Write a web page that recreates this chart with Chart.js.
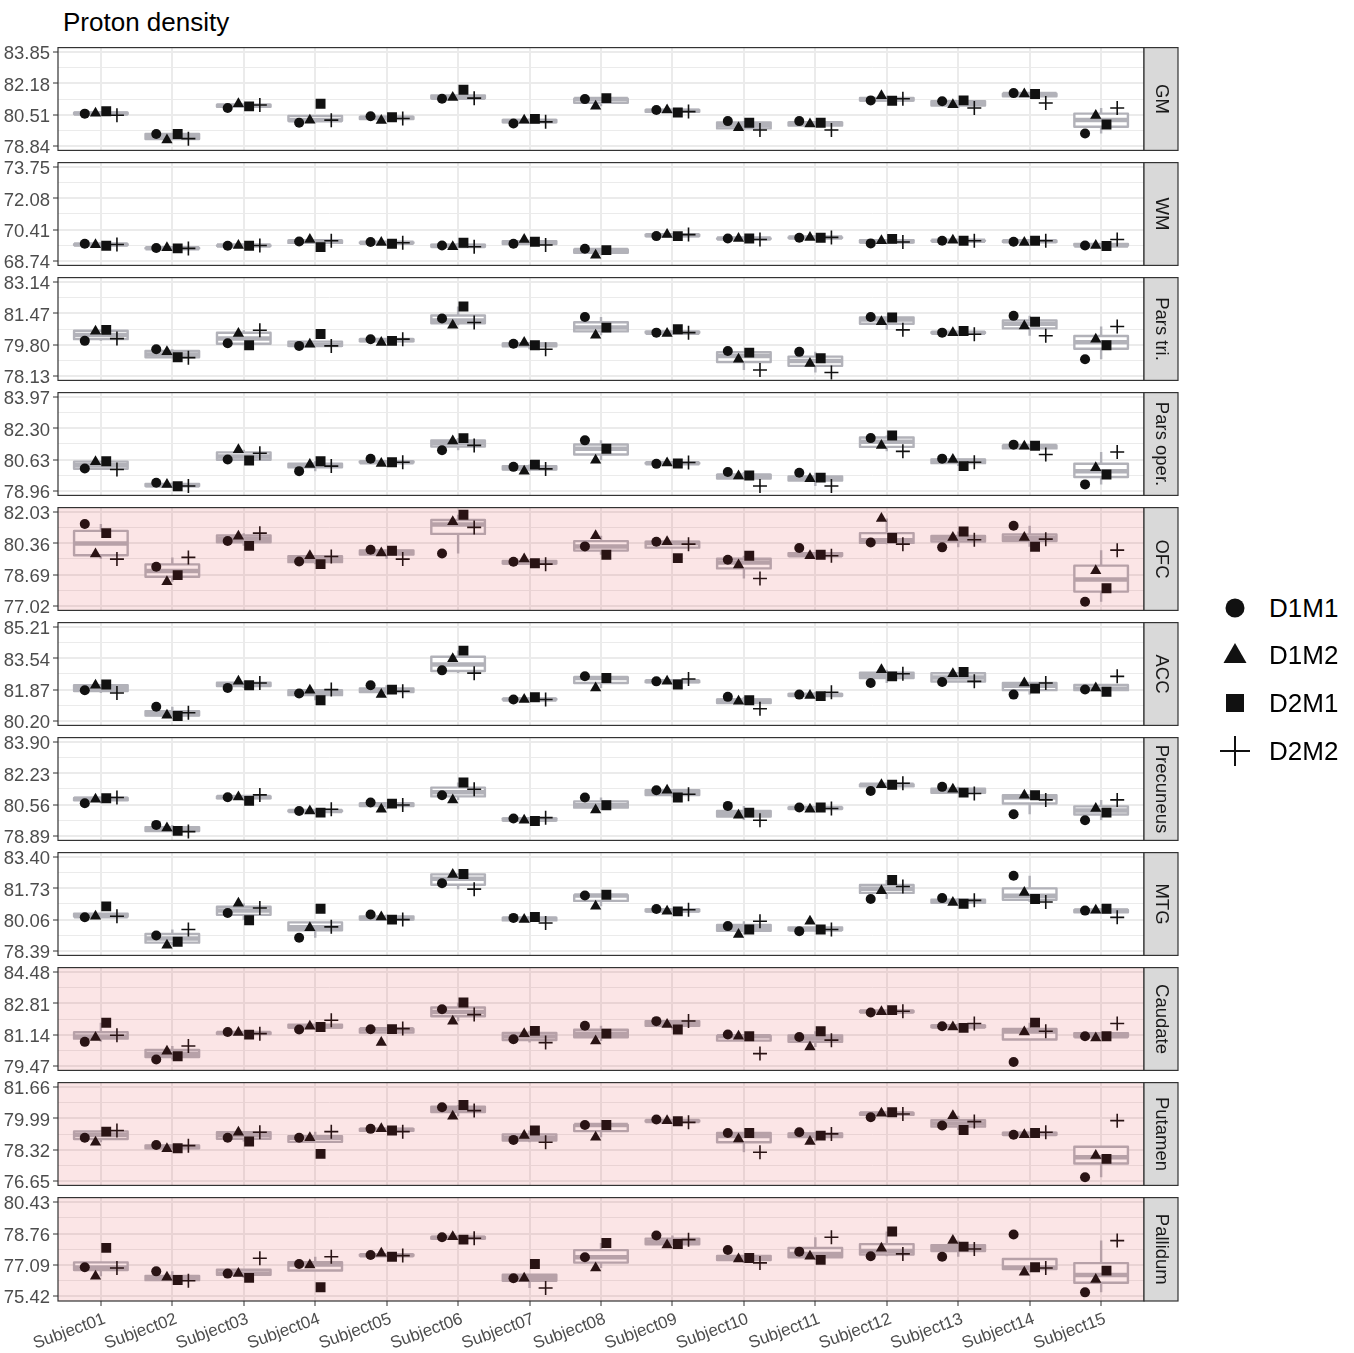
<!DOCTYPE html>
<html>
<head>
<meta charset="utf-8">
<script src="https://cdn.jsdelivr.net/npm/chart.js@4.4.1/dist/chart.umd.min.js"></script>
<style>
  body { margin: 0; background: #fff; }
  #page { position: relative; width: 1354px; height: 1353px; overflow: hidden; font-family: 'Liberation Sans', Arial, sans-serif; }
  #title { position: absolute; left: 63px; top: 6px; font-size: 26px; line-height: 32px; color: #000; }
  canvas.panel { position: absolute; left: 0; }
  .key { position: absolute; left: 1215px; width: 140px; height: 40px; }
  .key svg { position: absolute; left: 0; top: 0; }
  .key span { position: absolute; left: 54px; top: 0; font-size: 26px; line-height: 40px; color: #000; white-space: nowrap; }
</style>
</head>
<body>
<div id="page">
  <div id="title">Proton density</div>
</div>
<script>
const subjects = ['Subject01', 'Subject02', 'Subject03', 'Subject04', 'Subject05', 'Subject06', 'Subject07', 'Subject08',
  'Subject09', 'Subject10', 'Subject11', 'Subject12', 'Subject13', 'Subject14', 'Subject15'];
const regions = ['GM', 'WM', 'Pars tri.', 'Pars oper.', 'OFC', 'ACC', 'Precuneus', 'MTG', 'Caudate', 'Putamen', 'Pallidum'];
const shadedRegions = ['OFC', 'Caudate', 'Putamen', 'Pallidum'];

// y tick labels of each facet (free scales)
const yTicks = [
  [78.84, 80.51, 82.18, 83.85],
  [68.74, 70.41, 72.08, 73.75],
  [78.13, 79.80, 81.47, 83.14],
  [78.96, 80.63, 82.30, 83.97],
  [77.02, 78.69, 80.36, 82.03],
  [80.20, 81.87, 83.54, 85.21],
  [78.89, 80.56, 82.23, 83.90],
  [78.39, 80.06, 81.73, 83.40],
  [79.47, 81.14, 82.81, 84.48],
  [76.65, 78.32, 79.99, 81.66],
  [75.42, 77.09, 78.76, 80.43]
];

// one row per region (same order as regions), one value per subject
const D1M1 = [
  [80.56, 79.47, 80.86, 80.07, 80.42, 81.36, 80.03, 81.34, 80.76, 80.16, 80.16, 81.27, 81.22, 81.66, 79.50],
  [69.65, 69.42, 69.54, 69.77, 69.74, 69.56, 69.65, 69.38, 70.06, 69.93, 69.97, 69.67, 69.81, 69.76, 69.56],
  [80.00, 79.55, 79.87, 79.73, 80.09, 81.20, 79.84, 81.28, 80.44, 79.46, 79.41, 81.28, 80.44, 81.34, 79.01],
  [80.15, 79.39, 80.63, 80.01, 80.67, 81.13, 80.24, 81.66, 80.40, 79.96, 79.92, 81.78, 80.68, 81.43, 79.30],
  [81.40, 79.11, 80.49, 79.39, 80.02, 79.82, 79.38, 80.20, 80.45, 79.48, 80.11, 80.41, 80.15, 81.31, 77.23],
  [81.83, 80.95, 81.96, 81.66, 82.10, 82.90, 81.34, 82.58, 82.31, 81.48, 81.60, 82.22, 82.28, 81.60, 81.87],
  [80.63, 79.47, 80.95, 80.22, 80.67, 81.06, 79.81, 80.94, 81.33, 80.49, 80.40, 81.29, 81.51, 80.04, 79.72],
  [80.18, 79.21, 80.41, 79.09, 80.33, 82.01, 80.15, 81.35, 80.63, 79.71, 79.44, 81.16, 81.21, 82.41, 80.54],
  [80.75, 79.80, 81.28, 81.41, 81.43, 82.50, 80.89, 81.61, 81.86, 81.14, 81.01, 82.32, 81.59, 79.67, 81.05],
  [78.95, 78.57, 78.95, 78.95, 79.43, 80.59, 78.84, 79.64, 79.93, 79.21, 79.25, 80.05, 79.61, 79.11, 76.84],
  [76.97, 76.75, 76.63, 77.14, 77.62, 78.57, 76.38, 77.50, 78.66, 77.89, 77.80, 77.55, 77.53, 78.71, 75.63]
];
const D1M2 = [
  [80.58, 79.15, 81.09, 80.21, 80.19, 81.43, 80.21, 80.95, 80.76, 79.80, 80.01, 81.52, 81.04, 81.61, 80.46],
  [69.60, 69.44, 69.56, 69.88, 69.72, 69.49, 69.88, 69.03, 70.14, 69.93, 69.99, 69.81, 69.84, 69.72, 69.56],
  [80.52, 79.42, 80.39, 79.82, 79.91, 80.84, 79.91, 80.30, 80.39, 79.01, 78.78, 81.03, 80.44, 80.80, 80.09],
  [80.51, 79.30, 81.16, 80.36, 80.42, 81.62, 80.01, 80.59, 80.45, 79.75, 79.60, 81.39, 80.63, 81.34, 80.19],
  [79.79, 78.30, 80.74, 79.70, 79.84, 81.52, 79.52, 80.77, 80.45, 79.20, 79.70, 81.70, 80.68, 80.68, 78.89],
  [82.10, 80.49, 82.31, 81.83, 81.60, 83.52, 81.34, 81.96, 82.31, 81.25, 81.55, 82.93, 82.72, 82.22, 81.96],
  [80.85, 79.31, 80.97, 80.22, 80.31, 80.81, 79.72, 80.27, 81.33, 79.99, 80.31, 81.62, 81.38, 81.06, 80.35],
  [80.24, 78.68, 80.94, 79.62, 80.20, 82.48, 80.06, 80.77, 80.50, 79.26, 79.97, 81.60, 80.98, 81.51, 80.56],
  [80.98, 80.25, 81.25, 81.59, 80.71, 81.86, 81.19, 80.80, 81.68, 81.05, 80.48, 82.36, 81.55, 81.28, 80.96],
  [78.71, 78.36, 79.25, 78.95, 79.43, 80.11, 79.07, 78.98, 79.87, 78.89, 78.75, 80.27, 80.14, 79.11, 78.00],
  [76.49, 76.43, 76.63, 77.09, 77.71, 78.60, 76.38, 76.93, 78.16, 77.41, 77.55, 77.98, 78.39, 76.70, 76.31]
];
const D2M1 = [
  [80.69, 79.47, 80.95, 81.09, 80.37, 81.84, 80.28, 81.39, 80.62, 80.07, 80.07, 81.25, 81.27, 81.61, 79.98],
  [69.54, 69.40, 69.54, 69.47, 69.65, 69.70, 69.76, 69.31, 70.06, 69.93, 69.97, 69.91, 69.81, 69.81, 69.53],
  [80.59, 79.12, 79.76, 80.37, 80.00, 81.84, 79.76, 80.71, 80.62, 79.37, 79.07, 81.25, 80.53, 81.02, 79.76],
  [80.54, 79.20, 80.58, 80.54, 80.49, 81.78, 80.36, 81.21, 80.42, 79.78, 79.66, 81.92, 80.28, 81.37, 79.83],
  [80.91, 78.66, 80.23, 79.25, 79.97, 81.90, 79.30, 79.75, 79.57, 79.70, 79.75, 80.65, 81.00, 80.18, 77.96],
  [82.14, 80.45, 82.10, 81.30, 81.87, 83.96, 81.46, 82.49, 82.14, 81.30, 81.52, 82.58, 82.81, 81.92, 81.75],
  [80.90, 79.15, 80.76, 80.13, 80.61, 81.74, 79.68, 80.52, 80.94, 80.13, 80.40, 81.62, 81.20, 81.06, 80.13],
  [80.77, 78.87, 80.02, 80.64, 80.06, 82.50, 80.20, 81.39, 80.50, 79.53, 79.53, 82.18, 80.91, 81.16, 80.64],
  [81.77, 79.98, 81.14, 81.55, 81.43, 82.86, 81.34, 81.19, 81.41, 81.05, 81.32, 82.45, 81.50, 81.78, 81.05],
  [79.28, 78.39, 78.75, 78.09, 79.34, 80.71, 79.34, 79.64, 79.84, 79.21, 79.07, 80.32, 79.37, 79.21, 77.82],
  [78.00, 76.29, 76.40, 75.90, 77.53, 78.44, 77.14, 78.26, 78.21, 77.46, 77.36, 78.87, 78.07, 76.97, 76.79]
];
// Subject08 has no D2M2 scan
const D2M2 = [
  [80.47, 79.22, 81.02, 80.21, 80.30, 81.39, 80.12, null, 80.67, 79.68, 79.68, 81.36, 80.86, 81.13, 80.86],
  [69.61, 69.40, 69.56, 69.81, 69.70, 69.49, 69.58, null, 70.14, 69.88, 69.99, 69.74, 69.81, 69.81, 69.88],
  [80.12, 79.10, 80.57, 79.73, 80.09, 80.98, 79.55, null, 80.44, 78.44, 78.30, 80.59, 80.35, 80.27, 80.77],
  [80.10, 79.21, 80.97, 80.28, 80.49, 81.39, 80.13, null, 80.47, 79.21, 79.21, 81.07, 80.49, 80.90, 81.04],
  [79.52, 79.61, 80.91, 79.66, 79.52, 81.22, 79.25, null, 80.32, 78.48, 79.70, 80.32, 80.56, 80.59, 80.00],
  [81.69, 80.63, 82.22, 81.87, 81.78, 82.75, 81.34, null, 82.44, 80.84, 81.73, 82.72, 82.31, 82.22, 82.58],
  [80.94, 79.11, 81.08, 80.31, 80.54, 81.38, 79.86, null, 81.11, 79.72, 80.35, 81.70, 81.15, 80.81, 80.81],
  [80.24, 79.53, 80.68, 79.67, 80.06, 81.69, 79.88, null, 80.59, 79.97, 79.53, 81.83, 81.09, 81.00, 80.18],
  [81.10, 80.53, 81.19, 81.91, 81.46, 82.21, 80.71, null, 81.87, 80.12, 80.84, 82.39, 81.73, 81.32, 81.73],
  [79.34, 78.53, 79.25, 79.28, 79.28, 80.41, 78.71, null, 79.78, 78.18, 79.16, 80.23, 79.82, 79.25, 79.87],
  [76.93, 76.25, 77.45, 77.53, 77.59, 78.51, 75.86, null, 78.44, 77.20, 78.57, 77.68, 77.94, 76.93, 78.39]
];

const FONT = "'Liberation Sans', Arial, sans-serif";
const PANEL_TOP = 47, PANEL_STEP = 115, PANEL_H = 104, PAD = 8, AXIS_H = 52;
const CANVAS_W = 1185, AREA_LEFT = 58, AREA_RIGHT = 1144, STRIP_W = 34;
const BOX_COLOR = '#b2b2b9', POINT_COLOR = '#111';

const series = [
  { name: 'D1M1', values: D1M1, style: 'circle', radius: 5, dodge: -0.225 },
  { name: 'D1M2', values: D1M2, style: 'triangle', radius: 6.5, dodge: -0.075 },
  { name: 'D2M1', values: D2M1, style: 'rect', radius: 7, dodge: 0.075 },
  { name: 'D2M2', values: D2M2, style: 'cross', radius: 7, dodge: 0.225 }
];

function quantile(sorted, p) {
  const h = (sorted.length - 1) * p;
  const lo = Math.floor(h), hi = Math.ceil(h);
  return sorted[lo] + (h - lo) * (sorted[hi] - sorted[lo]);
}

const facetPlugin = {
  id: 'facet',
  beforeDatasetsDraw(chart, args, opts) {
    const { ctx, scales: { x, y } } = chart;
    const r = opts.region;
    ctx.save();
    ctx.strokeStyle = BOX_COLOR;
    subjects.forEach((s, i) => {
      const vals = series.map(se => se.values[r][i]).filter(v => v != null).sort((a, b) => a - b);
      const q1 = quantile(vals, 0.25), med = quantile(vals, 0.5), q3 = quantile(vals, 0.75);
      const iqr = q3 - q1;
      const lo = vals.find(v => v >= q1 - 1.5 * iqr);
      const hi = [...vals].reverse().find(v => v <= q3 + 1.5 * iqr);
      const cx = x.getPixelForValue(i + 1);
      const left = x.getPixelForValue(i + 1 - 0.375);
      const right = x.getPixelForValue(i + 1 + 0.375);
      const top = y.getPixelForValue(q3), bottom = y.getPixelForValue(q1);
      ctx.lineWidth = 2.4;
      ctx.beginPath();
      ctx.moveTo(cx, top); ctx.lineTo(cx, y.getPixelForValue(hi));
      ctx.moveTo(cx, bottom); ctx.lineTo(cx, y.getPixelForValue(lo));
      ctx.stroke();
      ctx.fillStyle = '#fff';
      ctx.fillRect(left, top, right - left, bottom - top);
      ctx.lineJoin = 'round';
      ctx.strokeRect(left, top, right - left, bottom - top);
      ctx.lineWidth = 4.5;
      ctx.beginPath();
      ctx.moveTo(left, y.getPixelForValue(med));
      ctx.lineTo(right, y.getPixelForValue(med));
      ctx.stroke();
    });
    ctx.restore();
  },
  afterDatasetsDraw(chart, args, opts) {
    const { ctx, chartArea: a } = chart;
    ctx.save();
    if (opts.shaded) {
      ctx.fillStyle = 'rgba(220, 40, 50, 0.12)';
      ctx.fillRect(a.left, a.top, a.width, a.height);
    }
    ctx.strokeStyle = '#333';
    ctx.lineWidth = 1.2;
    ctx.strokeRect(a.left, a.top, a.width, a.height);
    // facet strip
    ctx.fillStyle = '#d9d9d9';
    ctx.fillRect(a.right, a.top, STRIP_W, a.height);
    ctx.strokeRect(a.right, a.top, STRIP_W, a.height);
    ctx.translate(a.right + STRIP_W / 2, (a.top + a.bottom) / 2);
    ctx.rotate(Math.PI / 2);
    ctx.fillStyle = '#1a1a1a';
    ctx.font = '18.5px ' + FONT;
    ctx.textAlign = 'center';
    ctx.textBaseline = 'middle';
    ctx.fillText(regions[opts.region], 0, 0);
    ctx.restore();
  }
};

const page = document.getElementById('page');

regions.forEach((region, r) => {
  const last = r === regions.length - 1;
  const ticks = yTicks[r];
  const pad = (ticks[3] - ticks[0]) * 0.05;
  const yAll = [];
  ticks.forEach((t, k) => {
    yAll.push(t);
    if (k < ticks.length - 1) yAll.push((t + ticks[k + 1]) / 2);
  });

  const canvas = document.createElement('canvas');
  canvas.className = 'panel';
  canvas.width = CANVAS_W;
  canvas.height = PAD + PANEL_H + (last ? AXIS_H : PAD);
  canvas.style.top = (PANEL_TOP + PANEL_STEP * r - PAD) + 'px';
  page.appendChild(canvas);

  new Chart(canvas, {
    type: 'scatter',
    data: {
      datasets: series.map(se => ({
        label: se.name,
        data: se.values[r].map((v, i) => (v == null ? null : { x: i + 1 + se.dodge, y: v })).filter(Boolean),
        pointStyle: se.style,
        pointRadius: se.radius,
        pointHoverRadius: se.radius,
        backgroundColor: POINT_COLOR,
        borderColor: POINT_COLOR,
        borderWidth: se.style === 'cross' ? 1.6 : 0
      }))
    },
    options: {
      responsive: false,
      animation: false,
      events: [],
      layout: { padding: { top: PAD, bottom: last ? 0 : PAD, left: 0, right: CANVAS_W - AREA_RIGHT } },
      plugins: {
        legend: { display: false },
        tooltip: { enabled: false },
        facet: { region: r, shaded: shadedRegions.includes(region) }
      },
      scales: {
        x: {
          type: 'linear',
          min: 0.4,
          max: 15.6,
          afterBuildTicks: sc => { sc.ticks = subjects.map((s, i) => ({ value: i + 1 })); },
          afterFit: sc => {
            sc.height = last ? AXIS_H : 0;
            sc.paddingLeft = 0;
            sc.paddingRight = 0;
          },
          ticks: {
            display: last,
            autoSkip: false,
            minRotation: 20,
            maxRotation: 20,
            padding: 3,
            labelOffset: 4,
            color: '#4d4d4d',
            font: { size: 17, family: FONT },
            callback: v => subjects[Math.round(v) - 1]
          },
          grid: { color: '#ebebeb', lineWidth: 2, drawTicks: last, tickLength: 5, tickColor: '#333', tickWidth: 1 },
          border: { display: false }
        },
        y: {
          min: ticks[0] - pad,
          max: ticks[3] + pad,
          afterBuildTicks: sc => { sc.ticks = yAll.map(v => ({ value: v })); },
          afterFit: sc => {
            sc.width = AREA_LEFT;
            sc.paddingTop = 0;
            sc.paddingBottom = 0;
          },
          ticks: {
            autoSkip: false,
            padding: 3,
            labelOffset: 2,
            color: '#4d4d4d',
            font: { size: 18.5, family: FONT },
            callback: (v, i) => (i % 2 === 0 ? v.toFixed(2) : '')
          },
          grid: {
            color: '#ebebeb',
            lineWidth: c => (c.index % 2 === 0 ? 2 : 1),
            tickColor: c => (c.index % 2 === 0 ? '#333' : 'rgba(0,0,0,0)'),
            tickLength: 5,
            tickWidth: 1
          },
          border: { display: false }
        }
      }
    },
    plugins: [facetPlugin]
  });
});

// legend
const keyShapes = {
  D1M1: '<circle cx="20" cy="20" r="9.5" fill="#111"/>',
  D1M2: '<polygon points="20,8 31.5,28 8.5,28" fill="#111"/>',
  D2M1: '<rect x="11" y="11" width="18" height="18" fill="#111"/>',
  D2M2: '<path d="M5 20 H35 M20 5 V35" stroke="#111" stroke-width="2"/>'
};
const keyCenters = [608, 655, 703, 751];
series.forEach((se, k) => {
  const item = document.createElement('div');
  item.className = 'key';
  item.style.top = (keyCenters[k] - 20) + 'px';
  item.innerHTML = '<svg width="40" height="40" viewBox="0 0 40 40">' + keyShapes[se.name] + '</svg><span>' + se.name + '</span>';
  page.appendChild(item);
});
</script>
</body>
</html>
